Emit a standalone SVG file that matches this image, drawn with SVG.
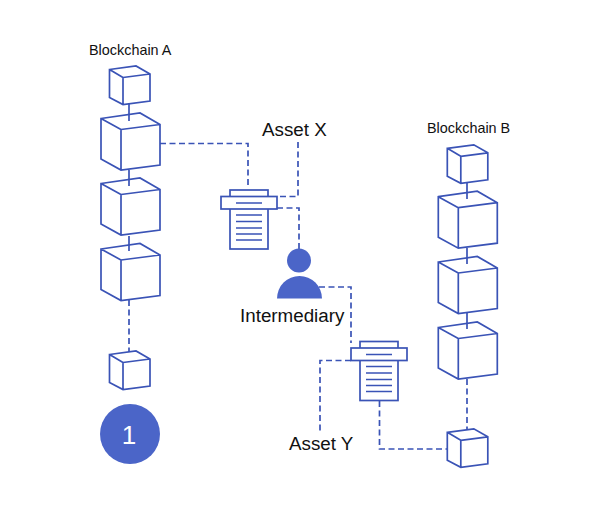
<svg xmlns="http://www.w3.org/2000/svg" width="600" height="514" viewBox="0 0 600 514">
<style>
.s{fill:none;stroke:#3a53b6;stroke-width:1.7;stroke-linejoin:miter}
.w{fill:#fff}
.c{fill:none;stroke:#3a53b6;stroke-width:1.7}
.d{stroke-dasharray:6 3.500}
.f{fill:#4b65c8}
text{font-family:"Liberation Sans",Arial,sans-serif;fill:#111}
.a{font-size:14.400px}
.b{font-size:18.800px}
</style>
<defs>
<g id="small"><path class="s" d="M0 0L26.500-3.500L40.500 4.500V31.500L13.500 35L0 28ZM0 0L13.500 8V35M13.500 8L40.500 4.500"/></g>
<g id="big"><path class="s" d="M0 0L39-5.500L59 6V46.500L20 51.500L0 40.500ZM0 0L20 11V51.500M20 11L59 6"/></g>
<g id="doc"><rect class="s w" x="9" y="0" width="38" height="59"/><rect class="s w" x="0" y="6.500" width="56" height="12.500"/><path class="s" d="M15 13H41M15 25H41M15 31.500H41M15 38H41M15 44H41M15 50H41"/></g>
</defs>
<g id="connectors">
<path class="c" d="M129 104V121M129 170V186M129 236V251M467 183V199M467 248V264M467 313V329"/>
<path class="c d" d="M129 300V352M467 379V430M160 143.500H248V187M298 142V196.500H277M277 208H299V249M319 287H351V343M351 360.500H320V433M379.500 401V449H447"/>
</g>
<g id="chain-a-1"><use href="#small" x="109.500" y="69.500"/></g>
<g id="chain-a-2"><use href="#big" x="101" y="118.500"/></g>
<g id="chain-a-3"><use href="#big" x="101" y="183.500"/></g>
<g id="chain-a-4"><use href="#big" x="101" y="249"/></g>
<g id="chain-a-5"><use href="#small" x="109.500" y="354.500"/></g>
<g id="chain-b-1"><use href="#small" x="447.300" y="148.300"/></g>
<g id="chain-b-2"><use href="#big" x="438.300" y="196.700"/></g>
<g id="chain-b-3"><use href="#big" x="438.300" y="262"/></g>
<g id="chain-b-4"><use href="#big" x="438.300" y="327.500"/></g>
<g id="chain-b-5"><use href="#small" x="447.300" y="432.300"/></g>
<g id="contract-1"><use href="#doc" x="221" y="190"/></g>
<g id="contract-2"><use href="#doc" x="351" y="341.500"/></g>
<g id="intermediary"><circle class="f" cx="299" cy="260.500" r="12"/><path class="f" d="M277 298.500A22.500 22.500 0 0 1 322 298.500Z"/><text class="b" x="240" y="322">Intermediary</text></g>
<g id="badge"><circle class="f" cx="130" cy="434" r="30"/><text x="129" y="444" text-anchor="middle" font-size="26" style="fill:#fff">1</text></g>
<g id="label-a"><text class="a" x="89" y="55">Blockchain A</text></g>
<g id="label-b"><text class="a" x="427" y="133">Blockchain B</text></g>
<g id="label-x"><text class="b" x="262" y="136">Asset X</text></g>
<g id="label-y"><text class="b" x="289" y="450">Asset Y</text></g>
</svg>
